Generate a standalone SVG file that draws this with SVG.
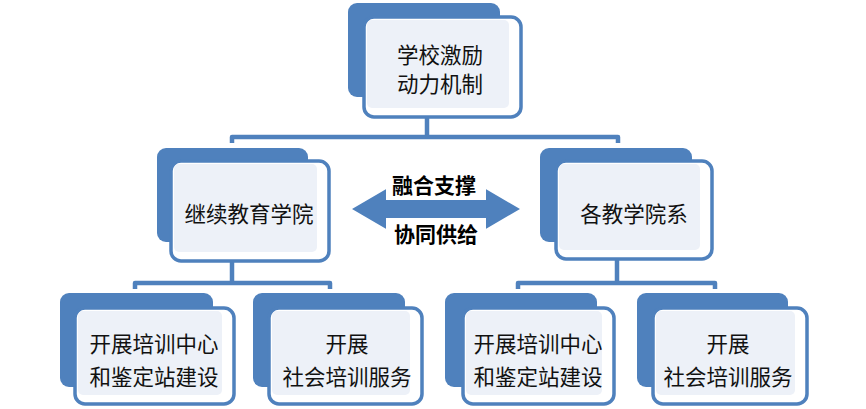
<svg xmlns="http://www.w3.org/2000/svg" width="866" height="409" viewBox="0 0 866 409">
<style>
.back{fill:#4f81bd}
.front{fill:#ffffff;stroke:#4f81bd;stroke-width:3.5}
.inner{fill:#edf1f8}
.t{font-family:"Noto Sans CJK SC","Liberation Sans",sans-serif;font-size:21.5px;fill:#111;text-anchor:middle;dominant-baseline:central}
.lb{font-family:"Noto Sans CJK SC","Liberation Sans",sans-serif;font-size:21px;font-weight:bold;fill:#000;text-anchor:middle;dominant-baseline:central}
.conn{fill:none;stroke:#4f81bd;stroke-width:4.5;stroke-linejoin:round}
</style>
<rect width="866" height="409" fill="#ffffff"/>
<g id="connectors">
<path class="conn" d="M427,118 V137"/>
<path class="conn" d="M232,143 V137 H618 V143"/>
<path class="conn" d="M232,255 V283"/>
<path class="conn" d="M617,255 V283"/>
<path class="conn" d="M135,289 V283 H330 V289"/>
<path class="conn" d="M518,289 V283 H715 V289"/>
</g>
<g id="n_top">
<rect class="back" x="348" y="3" width="152" height="94" rx="9"/>
<rect class="front" x="364" y="17" width="157" height="100" rx="10"/>
<rect class="inner" x="367" y="20" width="142" height="88" rx="5"/>
<text class="t" x="440" y="53">学校激励</text>
<text class="t" x="440" y="82">动力机制</text>
</g>
<g id="n_jxjy">
<rect class="back" x="157" y="148" width="151" height="94" rx="9"/>
<rect class="front" x="171" y="161" width="158" height="100" rx="10"/>
<rect class="inner" x="174" y="164" width="143" height="88" rx="5"/>
<text class="t" x="249" y="212">继续教育学院</text>
</g>
<g id="n_gjxy">
<rect class="back" x="540" y="148" width="152" height="94" rx="9"/>
<rect class="front" x="556" y="161" width="156" height="98" rx="10"/>
<rect class="inner" x="559" y="164" width="141" height="86" rx="5"/>
<text class="t" x="634" y="212">各教学院系</text>
</g>
<g id="arrow">
<polygon fill="#4f81bd" points="352,209 388,188 388,197 484,197 484,188 520,209 484,230 484,221 388,221 388,230"/>
<rect x="386" y="168" width="100" height="32" fill="#ffffff"/>
<rect x="386" y="218" width="100" height="32" fill="#ffffff"/>
<text class="lb" x="434" y="184">融合支撑</text>
<text class="lb" x="436" y="233">协同供给</text>
</g>
<g id="n_a">
<rect class="back" x="60" y="293" width="153" height="94" rx="9"/>
<rect class="front" x="75" y="308" width="159" height="96" rx="10"/>
<rect class="inner" x="78" y="311" width="144" height="84" rx="5"/>
<text class="t" x="154" y="342">开展培训中心</text>
<text class="t" x="154" y="375">和鉴定站建设</text>
</g>
<g id="n_b">
<rect class="back" x="253" y="293" width="152" height="94" rx="9"/>
<rect class="front" x="269" y="308" width="153" height="96" rx="10"/>
<rect class="inner" x="272" y="311" width="138" height="84" rx="5"/>
<text class="t" x="347" y="342">开展</text>
<text class="t" x="347" y="375">社会培训服务</text>
</g>
<g id="n_c">
<rect class="back" x="445" y="293" width="152" height="94" rx="9"/>
<rect class="front" x="463" y="308" width="151" height="96" rx="10"/>
<rect class="inner" x="466" y="311" width="136" height="84" rx="5"/>
<text class="t" x="538" y="342">开展培训中心</text>
<text class="t" x="538" y="375">和鉴定站建设</text>
</g>
<g id="n_d">
<rect class="back" x="637" y="293" width="151" height="94" rx="9"/>
<rect class="front" x="653" y="308" width="154" height="96" rx="10"/>
<rect class="inner" x="656" y="311" width="139" height="84" rx="5"/>
<text class="t" x="728" y="342">开展</text>
<text class="t" x="728" y="375">社会培训服务</text>
</g>
</svg>
